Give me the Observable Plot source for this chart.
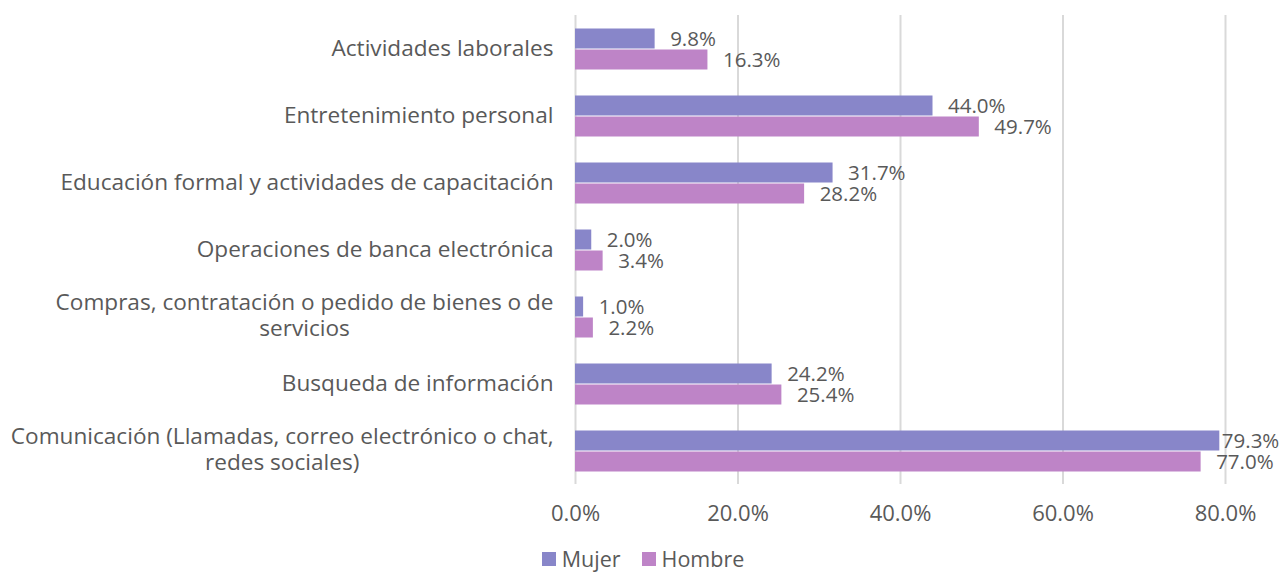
<!DOCTYPE html>
<html>
<head>
<meta charset="utf-8">
<script src="https://cdn.jsdelivr.net/npm/d3@7"></script>
<script src="https://cdn.jsdelivr.net/npm/@observablehq/plot@0.6"></script>
<style>
  html, body { margin: 0; padding: 0; background: #fff; }
  body { width: 1280px; height: 577px; overflow: hidden; font-family: "Open Sans", sans-serif; }
  #legend { display: flex; justify-content: center; align-items: center; gap: 21px; height: 37px; font-size: 21.5px; color: #595959; padding-left: 6px; }
  #legend .item { display: flex; align-items: center; gap: 6px; }
  #legend .sw { width: 14px; height: 14px; display: inline-block; }
</style>
</head>
<body>
<div id="chart"></div>
<div id="legend"></div>
<script>
const categories = [
  "Actividades laborales",
  "Entretenimiento personal",
  "Educación formal y actividades de capacitación",
  "Operaciones de banca electrónica",
  "Compras, contratación o pedido de bienes o de\nservicios",
  "Busqueda de información",
  "Comunicación (Llamadas, correo electrónico o chat,\nredes sociales)"
];
const series = ["Mujer", "Hombre"];
const mujer = [9.8, 44.0, 31.7, 2.0, 1.0, 24.2, 79.3];
const hombre = [16.3, 49.7, 28.2, 3.4, 2.2, 25.4, 77.0];
const colors = ["#8886C9", "#BE84C7"];
const xTicks = [0, 20, 40, 60, 80];

const data = [];
categories.forEach((c, i) => {
  data.push({category: c, sex: "Mujer", value: mujer[i]});
  data.push({category: c, sex: "Hombre", value: hombre[i]});
});
const fmt = v => v.toFixed(1) + "%";

const plot = Plot.plot({
  width: 1280,
  height: 540,
  marginLeft: 575,
  marginRight: 55,
  marginTop: 14,
  marginBottom: 55,
  style: {fontFamily: "'Open Sans', sans-serif", fontSize: "22px", color: "#595959", background: "#fff"},
  x: {domain: [0, 80], ticks: xTicks, tickFormat: fmt, tickSize: 0, tickPadding: 21, label: null, axis: "bottom"},
  y: {domain: series, axis: null, paddingInner: 0, paddingOuter: 0.565},
  fy: {domain: categories, padding: 0, label: null, axis: "left", tickSize: 0, tickPadding: 22},
  color: {domain: series, range: colors},
  marks: [
    Plot.ruleX(xTicks, {stroke: "#d9d9d9", strokeWidth: 2}),
    Plot.barX(data, {x: "value", y: "sex", fy: "category", fill: "sex", insetTop: 0.5, insetBottom: 0.5}),
    Plot.text(data.filter(d => d.value < 78), {x: "value", y: "sex", fy: "category", text: d => fmt(d.value), textAnchor: "start", dx: 15, fill: "#595959", fontSize: 20.5}),
    Plot.text(data.filter(d => d.value >= 78), {x: "value", y: "sex", fy: "category", text: d => fmt(d.value), textAnchor: "start", dx: 2, fill: "#595959", fontSize: 20.5})
  ]
});
document.getElementById("chart").appendChild(plot);

// category labels: larger font; center wrapped second lines under the first line
plot.querySelectorAll("[aria-label='fy-axis tick label'] text").forEach(t => {
  t.style.fontSize = "22.6px";
  const spans = t.querySelectorAll("tspan");
  if (spans.length > 1) {
    const w = spans[0].getComputedTextLength();
    t.setAttribute("text-anchor", "middle");
    spans.forEach((s, k) => {
      s.setAttribute("x", -w / 2);
      s.setAttribute("dy", k === 0 ? "-0.12em" : "1.13em");
    });
  }
});

const legend = document.getElementById("legend");
series.forEach((s, i) => {
  const item = document.createElement("div");
  item.className = "item";
  item.innerHTML = `<span class="sw" style="background:${colors[i]}"></span><span>${s}</span>`;
  legend.appendChild(item);
});
</script>
</body>
</html>
